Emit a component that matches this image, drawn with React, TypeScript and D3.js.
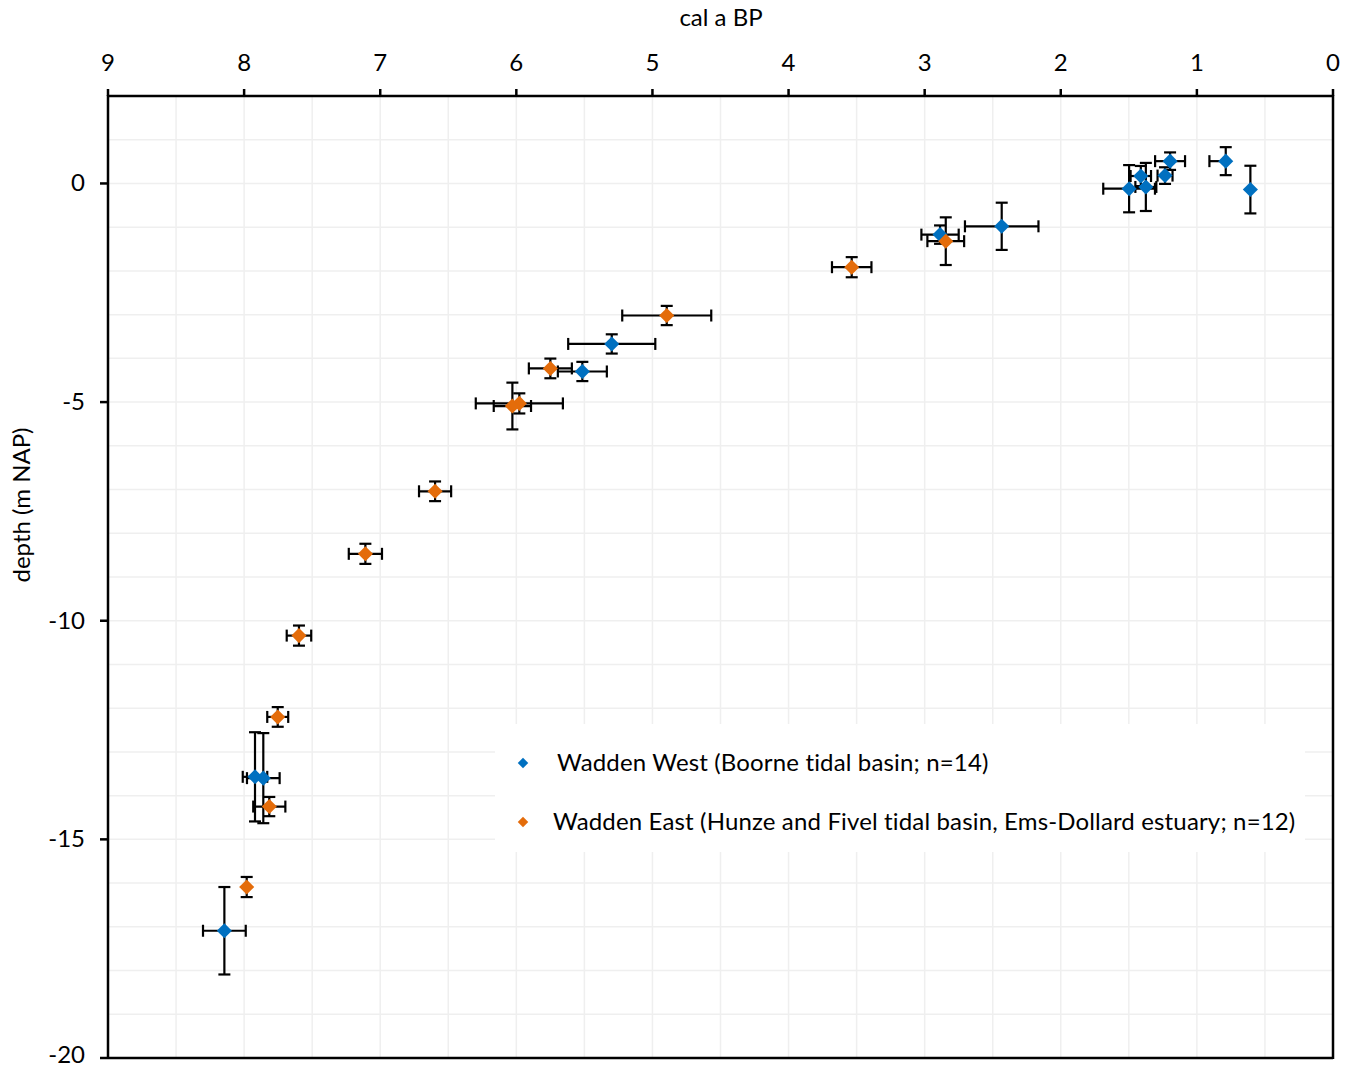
import React from 'react';
import * as d3 from 'd3';

// Wadden West (Boorne tidal basin) – age (ka cal BP), depth (m NAP), errors
const westAge = [1.197, 0.788, 0.607, 1.498, 1.412, 1.375, 1.234, 2.434, 2.887, 5.299, 5.515, 7.92, 7.859, 8.145];
const westDepth = [0.51, 0.51, -0.14, -0.12, 0.17, -0.08, 0.18, -0.98, -1.17, -3.67, -4.3, -13.57, -13.6, -17.09];
const westAgeErrOld = [0.11, 0.12, 0, 0.19, 0.075, 0.077, 0.055, 0.27, 0.137, 0.32, 0.18, 0.09, 0.12, 0.157];
const westAgeErrYoung = [0.11, 0.03, 0, 0.19, 0.075, 0.077, 0.055, 0.27, 0.137, 0.32, 0.18, 0.09, 0.12, 0.157];
const westDepthErr = [0.2, 0.32, 0.545, 0.54, 0.23, 0.55, 0.19, 0.54, 0.21, 0.22, 0.22, 1.02, 1.03, 1.0];

// Wadden East (Hunze and Fivel tidal basin, Ems-Dollard estuary)
const eastAge = [2.845, 3.536, 4.895, 5.75, 5.978, 6.029, 6.597, 7.109, 7.597, 7.753, 7.815, 7.981];
const eastDepth = [-1.32, -1.915, -3.02, -4.23, -5.03, -5.09, -7.04, -8.47, -10.34, -12.2, -14.25, -16.09];
const eastAgeErr = [0.135, 0.145, 0.327, 0.158, 0.32, 0.137, 0.118, 0.122, 0.09, 0.077, 0.118, 0.037];
const eastDepthErr = [0.545, 0.23, 0.22, 0.225, 0.23, 0.535, 0.225, 0.23, 0.23, 0.225, 0.22, 0.23];

const xTicks = [9, 8, 7, 6, 5, 4, 3, 2, 1, 0];
const yTicks = [0, -5, -10, -15, -20];
const legendLabels = [
  'Wadden West (Boorne tidal basin; n=14)',
  'Wadden East (Hunze and Fivel tidal basin, Ems-Dollard estuary; n=12)',
];

const BLUE = '#0070c0';
const ORANGE = '#e46c0a';
const FONT = 'Lato, "Open Sans", sans-serif';

type Pt = { age: number; depth: number; lo: number; hi: number; dErr: number; color: string };

export default function App() {
  const width = 1352;
  const height = 1068;
  const left = 108, right = 1333, top = 96, bottom = 1058;

  const x = d3.scaleLinear().domain([9, 0]).range([left, right]);
  const y = d3.scaleLinear().domain([2, -20]).range([top, bottom]);

  const west: Pt[] = westAge.map((a, i) => ({
    age: a, depth: westDepth[i], lo: westAgeErrYoung[i], hi: westAgeErrOld[i], dErr: westDepthErr[i], color: BLUE,
  }));
  const east: Pt[] = eastAge.map((a, i) => ({
    age: a, depth: eastDepth[i], lo: eastAgeErr[i], hi: eastAgeErr[i], dErr: eastDepthErr[i], color: ORANGE,
  }));
  const points = [...west, ...east];

  const xGrid = d3.range(0, 9.01, 0.5);
  const yGrid = d3.range(-20, 2.01, 1);
  const cap = 6;
  const diamond = d3.symbol().type(d3.symbolDiamond2).size(145)();
  const legendDiamond = d3.symbol().type(d3.symbolDiamond2).size(70)();

  return (
    <div style={{ position: 'absolute', left: 0, top: 0 }}>
      <svg width={width} height={height} style={{ display: 'block', background: '#fff' }}>
        {/* grid */}
        <g stroke="#efefef" strokeWidth={1.5}>
          {xGrid.map((v) => (
            <line key={'gx' + v} x1={x(v)} x2={x(v)} y1={top} y2={bottom} />
          ))}
          {yGrid.map((v) => (
            <line key={'gy' + v} x1={left} x2={right} y1={y(v)} y2={y(v)} />
          ))}
        </g>

        {/* frame */}
        <line x1={left} x2={left} y1={top - 1} y2={bottom + 1} stroke="#000" strokeWidth={2.5} />
        <line x1={right} x2={right} y1={top - 1} y2={bottom + 1} stroke="#000" strokeWidth={2.5} />
        <line x1={left} x2={right} y1={top} y2={top} stroke="#000" strokeWidth={2.5} />
        <line x1={left} x2={right} y1={bottom} y2={bottom} stroke="#000" strokeWidth={2.5} />

        {/* top axis */}
        {xTicks.map((v) => (
          <g key={'xt' + v}>
            <line x1={x(v)} x2={x(v)} y1={top} y2={top - 7} stroke="#000" strokeWidth={2.5} />
            <text x={x(v)} y={top - 25} textAnchor="middle" fontFamily={FONT} fontSize={24} fill="#000">
              {v}
            </text>
          </g>
        ))}
        <text x={721} y={26} textAnchor="middle" fontFamily={FONT} fontSize={24} fill="#000">
          cal a BP
        </text>

        {/* left axis */}
        {yTicks.map((v) => (
          <g key={'yt' + v}>
            <line x1={left} x2={left - 8} y1={y(v)} y2={y(v)} stroke="#000" strokeWidth={2.5} />
            <text x={left - 23} y={Math.min(y(v), bottom - 3)} dy="0.33em" textAnchor="end" fontFamily={FONT} fontSize={24} fill="#000">
              {v}
            </text>
          </g>
        ))}
        <text
          transform={`translate(30,505) rotate(-90)`}
          textAnchor="middle"
          fontFamily={FONT}
          fontSize={24}
          fill="#000"
        >
          depth (m NAP)
        </text>

        {/* legend */}
        <rect x={495} y={724} width={810} height={128} fill="#fff" />
        {legendLabels.map((t, i) => (
          <g key={'lg' + i} transform={`translate(523,${763 + i * 59})`}>
            <path d={legendDiamond} fill={i === 0 ? BLUE : ORANGE} />
            <text x={i === 0 ? 34 : 30} y={0} dy="0.35em" fontFamily={FONT} fontSize={24} letterSpacing={0.15} fill="#000">
              {t}
            </text>
          </g>
        ))}

        {/* error bars */}
        <g stroke="#000" strokeWidth={2.2}>
          {points.map((p, i) => {
            const cx = x(p.age);
            const cy = y(p.depth);
            const xo = x(p.age + p.hi);
            const xy = x(p.age - p.lo);
            const yt = y(p.depth + p.dErr);
            const yb = y(p.depth - p.dErr);
            return (
              <g key={'e' + i}>
                {p.hi + p.lo > 0 && (
                  <>
                    <line x1={xo} x2={xy} y1={cy} y2={cy} />
                    {p.hi > 0.05 && <line x1={xo} x2={xo} y1={cy - cap} y2={cy + cap} />}
                    {p.lo > 0.05 && <line x1={xy} x2={xy} y1={cy - cap} y2={cy + cap} />}
                  </>
                )}
                <line x1={cx} x2={cx} y1={yt} y2={yb} />
                <line x1={cx - cap} x2={cx + cap} y1={yt} y2={yt} />
                <line x1={cx - cap} x2={cx + cap} y1={yb} y2={yb} />
              </g>
            );
          })}
        </g>

        {/* markers */}
        {points.map((p, i) => (
          <path key={'m' + i} d={diamond} transform={`translate(${x(p.age)},${y(p.depth)})`} fill={p.color} />
        ))}
      </svg>
    </div>
  );
}
